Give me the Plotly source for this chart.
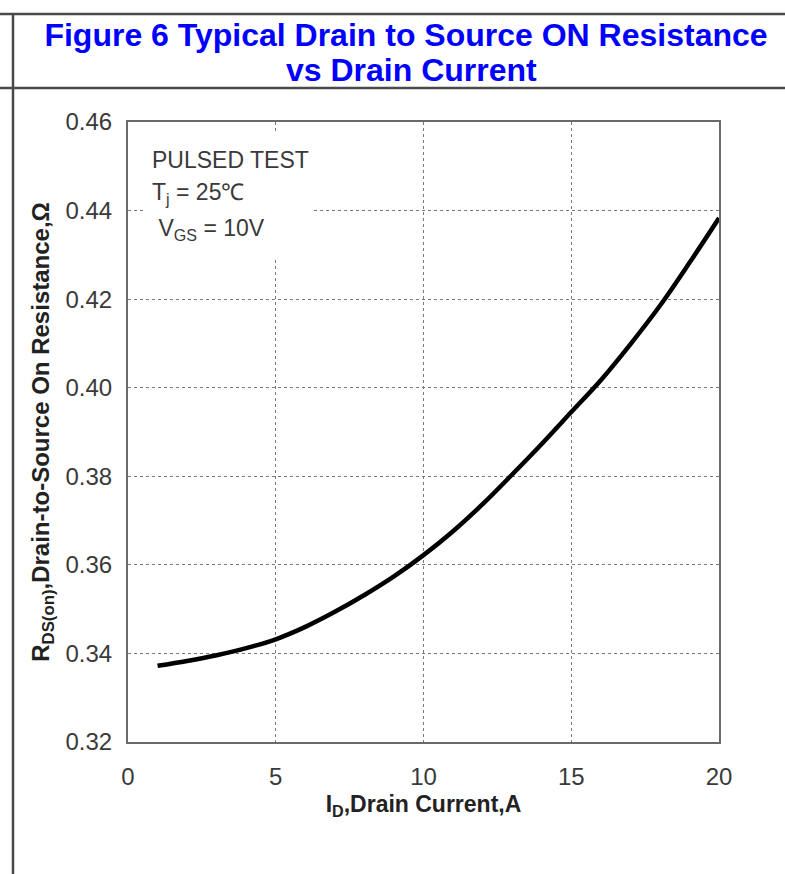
import plotly.graph_objects as go

# Data
drain_current_a = [1, 2, 3, 4, 5, 6, 7, 8, 9, 10, 11, 12, 13, 14, 15, 16, 17, 18, 19, 20]
rds_on_ohm = [0.3372, 0.3383, 0.3396, 0.3412, 0.3432, 0.3460, 0.3494, 0.3532, 0.3574, 0.3622,
              0.3676, 0.3737, 0.3804, 0.3873, 0.3945, 0.4017, 0.4098, 0.4185, 0.4282, 0.4383]
x_ticks = [0, 5, 10, 15, 20]
y_ticks = [0.32, 0.34, 0.36, 0.38, 0.40, 0.42, 0.44, 0.46]
y_tick_labels = ["0.32", "0.34", "0.36", "0.38", "0.40", "0.42", "0.44", "0.46"]
title_lines = ["Figure 6 Typical Drain to Source ON Resistance", "vs Drain Current"]
note_lines = ["PULSED TEST", "T<sub>j</sub> = 25℃", " V<sub>GS</sub> = 10V"]

W, H = 785, 874
L, R, T, B = 128, 66, 122, 132
PW, PH = W - L - R, H - T - B

def px(xp):
    return (xp - L) / PW

def py(yp):
    return (H - B - yp) / PH

FONT = "Liberation Sans, Arial, sans-serif"
TXT = "#3a3a3a"
BLUE = "#0000ff"

fig = go.Figure()
fig.add_trace(go.Scatter(
    x=drain_current_a, y=rds_on_ohm, mode="lines",
    line=dict(color="black", width=4.5, shape="spline"),
    showlegend=False, hoverinfo="skip",
))

fig.update_layout(
    width=W, height=H,
    margin=dict(l=L, r=R, t=T, b=B),
    paper_bgcolor="white", plot_bgcolor="white",
    title=dict(
        text=title_lines[0],
        font=dict(family=FONT, size=32, color=BLUE, weight="bold"),
        x=406 / W, xanchor="center", xref="container",
        y=1 - 35 / H, yanchor="middle", yref="container",
    ),
    xaxis=dict(
        range=[0, 20], tickvals=x_ticks, ticks="", showgrid=True,
        gridcolor="#7a7a7a", griddash="dot", gridwidth=1,
        showline=True, linecolor="#6a6a6a", linewidth=2, mirror=True,
        zeroline=False,
        tickfont=dict(family=FONT, size=24, color=TXT),
        ticklabelstandoff=12,
        title=dict(text="I<sub>D</sub>,Drain Current,A",
                   font=dict(family=FONT, size=23, color="#222", weight="bold"),
                   standoff=7),
    ),
    yaxis=dict(
        range=[0.32, 0.46], tickvals=y_ticks, ticktext=y_tick_labels, ticks="",
        showgrid=True, gridcolor="#7a7a7a", griddash="dot", gridwidth=1,
        showline=True, linecolor="#6a6a6a", linewidth=2, mirror=True,
        zeroline=False,
        tickfont=dict(family=FONT, size=24, color=TXT),
        ticklabelstandoff=9,
        title=dict(text="R<sub>DS(on)</sub>,Drain-to-Source On Resistance,Ω",
                   font=dict(family=FONT, size=24, color="#222", weight="bold"),
                   standoff=9),
    ),
)

# second title line
fig.add_annotation(
    xref="paper", yref="paper", x=px(411), y=py(70), xanchor="center", yanchor="middle",
    text=title_lines[1], showarrow=False,
    font=dict(family=FONT, size=32, color=BLUE, weight="bold"),
)

# white box behind the test-condition note (hides grid lines there)
fig.add_shape(type="rect", xref="paper", yref="paper",
              x0=px(145), x1=px(314), y0=py(258), y1=py(132),
              fillcolor="white", line=dict(width=0), layer="above")
for line_text, yc in zip(note_lines, [160, 194, 229]):
    fig.add_annotation(
        xref="paper", yref="paper", x=px(150), y=py(yc), xanchor="left", yanchor="middle",
        text=line_text, align="left", showarrow=False,
        font=dict(family=FONT, size=23, color=TXT),
    )

# table frame lines
frame = dict(color="#4a4a4a", width=2.5)
fig.add_shape(type="line", xref="paper", yref="paper", x0=px(0), x1=px(W), y0=py(14), y1=py(14), line=frame)
fig.add_shape(type="line", xref="paper", yref="paper", x0=px(0), x1=px(W), y0=py(88), y1=py(88), line=frame)
fig.add_shape(type="line", xref="paper", yref="paper", x0=px(13), x1=px(13), y0=py(14), y1=py(H), line=frame)

fig.write_html("out.html", config={"displayModeBar": False},
               post_script="document.body.style.margin='0';document.body.style.overflow='hidden';")
